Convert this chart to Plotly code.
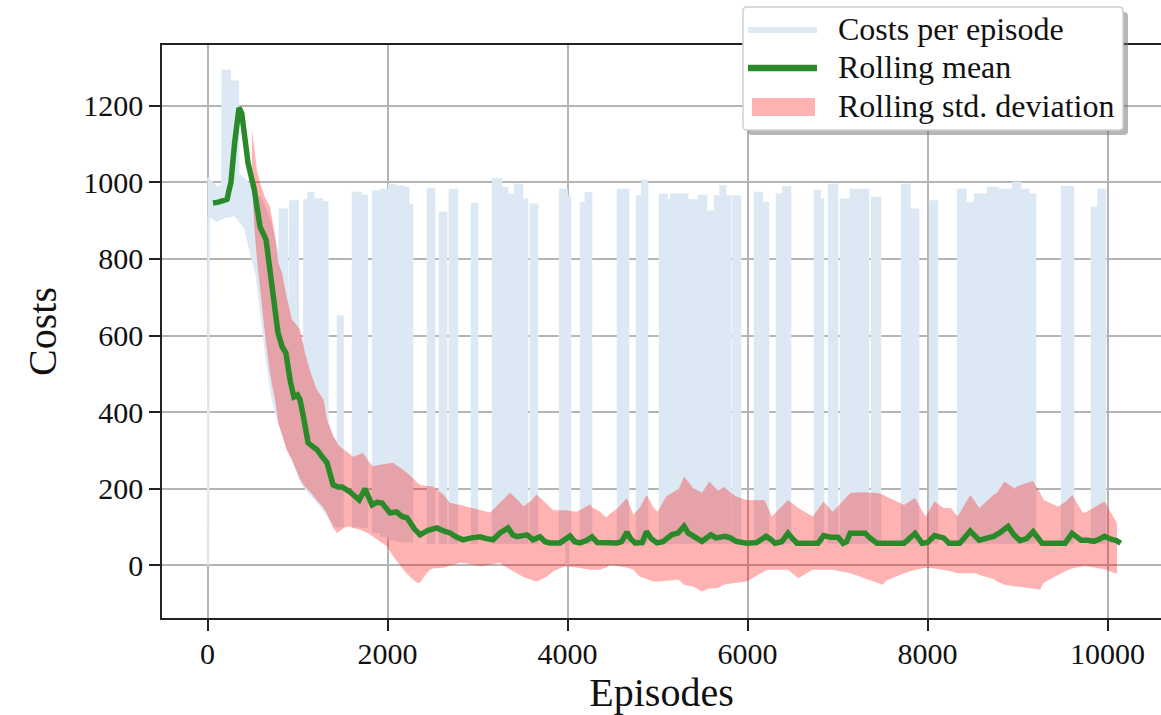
import plotly.graph_objects as go

# ---------------- data ----------------
# Costs per episode: early dense region outline (episode, cost)
early_top_ep = [0, 40, 100, 165, 170, 245, 248, 335, 340, 420, 470, 500, 583, 694, 760, 800,
                805, 880, 885, 915, 920, 1000, 1005, 1075, 1078, 1120, 1122, 1175, 1178, 1195,
                1197, 1270, 1272, 1330, 1333, 1400, 1440]
early_top_cost = [1010, 1000, 985, 990, 1290, 1290, 1262, 1262, 1020, 1005, 990, 960, 960, 900, 830, 790,
                  928, 928, 690, 650, 950, 950, 610, 560, 952, 952, 972, 972, 500, 480,
                  955, 955, 947, 947, 370, 330, 320]
early_low_ep = [5, 12, 100, 200, 300, 340, 420, 480, 550, 600, 660, 720, 800, 880, 960, 1050, 1150, 1250, 1350, 1440]
early_low_cost = [0, 915, 900, 910, 915, 905, 880, 820, 755, 660, 537, 440, 370, 315, 270, 215, 185, 160, 125, 100]

# Costs per episode: failure spikes after the early phase (start, end, peak cost, base cost)
spike_start = [1450, 1617, 1700, 1840, 1930, 2017, 2100, 2172, 2230, 2450, 2583, 2694, 2939,
               3172, 3260, 3328, 3417, 3494, 3594, 3917, 3990, 4005, 4150, 4205, 4561, 4772, 4830,
               5028, 5100, 5150, 5330, 5461, 5540, 5639, 5700, 5750, 5839,
               6083, 6160, 6328, 6400, 6750, 6800, 6906, 7039, 7150, 7383, 7717, 7800,
               8028, 8339, 8420, 8528, 8672, 8783, 8950, 9050, 9120, 9495, 9828, 9900]
spike_end = [1500, 1700, 1770, 1930, 1994, 2083, 2172, 2230, 2272, 2517, 2650, 2772, 2994,
             3260, 3328, 3394, 3494, 3550, 3661, 3990, 4005, 4028, 4205, 4261, 4672, 4830, 4883,
             5100, 5150, 5330, 5439, 5540, 5617, 5700, 5750, 5806, 5917,
             6160, 6228, 6400, 6472, 6800, 6839, 6994, 7128, 7339, 7472, 7800, 7894,
             8106, 8420, 8506, 8672, 8783, 8950, 9028, 9120, 9194, 9617, 9900, 9972]
spike_cost = [649, 972, 965, 975, 980, 993, 988, 985, 940, 982, 920, 980, 943,
              1007, 985, 967, 993, 954, 941, 980, 5, 962, 945, 971, 980, 963, 1003,
              967, 952, 967, 952, 964, 923, 963, 989, 963, 963,
              972, 945, 967, 987, 977, 955, 993, 954, 980, 959, 993, 928,
              950, 980, 945, 967, 985, 980, 998, 980, 967, 987, 933, 980]
spike_base = [100, 100, 98, 85, 75, 65, 62, 60, 60] + [57] * 52

# Rolling mean
mean_ep = [61, 120, 216, 260, 300, 350, 380, 420, 450, 520, 583, 650, 700, 783, 830, 870, 920, 960,
           1000, 1028, 1080, 1117, 1170, 1217, 1270, 1328, 1395, 1450, 1495, 1540, 1583, 1640, 1685,
           1750, 1790, 1828, 1880, 1939, 2028, 2100, 2160, 2217, 2300, 2361, 2450, 2550, 2620, 2695,
           2760, 2839, 2930, 3028, 3100, 3172, 3250, 3339, 3390, 3439, 3500, 3550, 3617, 3694, 3750,
           3805, 3917, 3960, 4028, 4080, 4139, 4210, 4272, 4330, 4394, 4550, 4600, 4660, 4700, 4750,
           4830, 4878, 4930, 4994, 5060, 5157, 5230, 5295, 5340, 5395, 5440, 5494, 5594, 5650, 5750,
           5810, 5872, 5991, 6100, 6206, 6260, 6306, 6380, 6450, 6500, 6550, 6783, 6845, 6920, 7006,
           7062, 7100, 7140, 7306, 7370, 7440, 7740, 7800, 7861, 7940, 8000, 8078, 8178, 8239, 8357,
           8420, 8474, 8573, 8650, 8734, 8800, 8895, 8960, 9028, 9100, 9173, 9273, 9528, 9606, 9706,
           9780, 9850, 9920, 9967, 10045, 10100, 10146]
mean_cost = [946, 948, 955, 1000, 1100, 1194, 1180, 1100, 1050, 980, 884, 850, 760, 607, 570, 555, 480, 440,
             445, 432, 370, 320, 310, 302, 285, 268, 210, 205, 205, 200, 192, 180, 171,
             200, 175, 158, 165, 163, 137, 140, 128, 124, 95, 80, 92, 98, 90, 85,
             75, 67, 72, 75, 70, 67, 85, 98, 80, 75, 78, 80, 67, 75, 62,
             59, 59, 65, 77, 62, 59, 65, 75, 60, 59, 59, 62, 87, 70, 59,
             60, 89, 70, 59, 62, 80, 85, 102, 85, 76, 70, 63, 80, 72, 76,
             72, 63, 58, 60, 76, 68, 58, 62, 84, 70, 58, 58, 78, 74, 74,
             58, 62, 84, 84, 70, 58, 58, 70, 84, 58, 60, 78, 72, 58, 58,
             75, 90, 66, 72, 76, 85, 102, 80, 65, 70, 88, 58, 58, 84, 66,
             66, 63, 70, 76, 68, 65, 58]

# Rolling standard deviation band (upper and lower edges)
std_ep = [494, 520, 550, 583, 640, 694, 750, 787, 828, 880, 939, 980, 1028, 1083, 1150, 1213, 1290,
          1328, 1390, 1439, 1472, 1530, 1583, 1617, 1694, 1728, 1780, 1839, 1900, 1994, 2061, 2139,
          2172, 2250, 2328, 2361, 2420, 2472, 2505, 2620, 2694, 2805, 2880, 3028, 3139, 3250, 3287,
          3361, 3472, 3509, 3600, 3657, 3772, 3842, 3972, 4102, 4250, 4283, 4361, 4430, 4472, 4561,
          4659, 4731, 4800, 4880, 4958, 5000, 5096, 5236, 5295, 5395, 5494, 5574, 5674, 5734, 5872,
          5991, 6190, 6230, 6270, 6450, 6565, 6724, 6845, 6945, 7143, 7262, 7441, 7501, 7541, 7740,
          7860, 7978, 8078, 8178, 8257, 8336, 8474, 8534, 8574, 8733, 8773, 8853, 8972, 8992, 9171,
          9250, 9290, 9449, 9529, 9608, 9727, 9767, 9966, 10085, 10105]
std_upper = [1137, 1080, 1030, 998, 960, 936, 860, 790, 763, 700, 641, 630, 615, 555, 500, 460, 432,
             380, 340, 320, 310, 300, 290, 284, 290, 294, 275, 258, 262, 265, 268, 255,
             250, 235, 216, 210, 208, 207, 206, 185, 164, 158, 154, 145, 138, 165, 172,
             190, 165, 154, 170, 185, 160, 144, 144, 140, 159, 150, 141, 125, 135, 150,
             176, 133, 150, 184, 150, 140, 180, 200, 232, 202, 190, 219, 195, 205, 180,
             171, 170, 150, 128, 171, 150, 128, 167, 140, 189, 191, 189, 185, 180, 158,
             176, 128, 167, 150, 150, 128, 184, 165, 150, 184, 190, 219, 200, 206, 221,
             190, 171, 154, 165, 184, 137, 140, 167, 119, 110]
std_lower = [1000, 880, 797, 720, 600, 500, 432, 372, 340, 300, 275, 250, 225, 205, 190, 171, 150,
             135, 100, 85, 90, 100, 102, 98, 93, 90, 85, 75, 65, 50, 25, -2,
             -10, -30, -45, -45, -25, -11, -8, -6, 0, 7, 5, -2, 2, 7, 0,
             -10, -24, -30, -38, -42, -29, -15, -2, -5, -11, -11, -11, -5, 2, -2,
             -5, -11, -29, -35, -42, -42, -40, -37, -50, -55, -68, -60, -59, -50, -45,
             -42, -15, -11, -11, -11, -33, -11, -11, -11, -20, -30, -45, -50, -40, -20,
             -12, -6, -8, -11, -15, -20, -20, -20, -25, -35, -42, -50, -55, -55, -60,
             -63, -45, -25, -15, -8, -2, -2, -10, -20, -20]

x_ticks = [0, 2000, 4000, 6000, 8000, 10000]
y_ticks = [0, 200, 400, 600, 800, 1000, 1200]
legend_labels = ["Costs per episode", "Rolling mean", "Rolling std. deviation"]

# ---------------- build the cost outline polygons ----------------
poly_x, poly_y = [], []
poly_x += early_top_ep + early_low_ep[::-1] + [None]
poly_y += early_top_cost + early_low_cost[::-1] + [None]
for s, e, c, b in zip(spike_start, spike_end, spike_cost, spike_base):
    poly_x += [s, s, e, e, None]
    poly_y += [b, c, c, b, None]

BLUE = "#dce8f3"
RED_FILL = "rgba(255,0,0,0.30)"
GREEN = "#2a8a2a"
FONT = "Liberation Serif"

fig = go.Figure()

fig.add_trace(go.Scatter(
    x=poly_x, y=poly_y, mode="lines", fill="toself", fillcolor=BLUE,
    line=dict(color=BLUE, width=2.5), connectgaps=False, showlegend=False,
    name=legend_labels[0], hoverinfo="skip"))

fig.add_trace(go.Scatter(
    x=std_ep, y=std_lower, mode="lines", line=dict(width=0, color="rgba(255,0,0,0)"),
    showlegend=False, hoverinfo="skip"))
fig.add_trace(go.Scatter(
    x=std_ep, y=std_upper, mode="lines", fill="tonexty",
    fillcolor=RED_FILL, line=dict(width=0, color="rgba(255,0,0,0)"),
    name=legend_labels[2], showlegend=False))

fig.add_trace(go.Scatter(
    x=mean_ep, y=mean_cost, mode="lines", name=legend_labels[1], showlegend=False,
    line=dict(color=GREEN, width=5.5)))

axis_common = dict(
    showgrid=True, gridcolor="#b4b4b4", gridwidth=1.5,
    showline=True, linecolor="#222222", linewidth=1.5, mirror=True,
    ticks="outside", ticklen=11, tickwidth=1.5, tickcolor="#222222",
    zeroline=False, automargin=False,
    tickfont=dict(family=FONT, size=30, color="#111111"),
)

# ---------------- legend box drawn in paper coordinates ----------------
L, T, W, H = 162, 45, 999, 573   # plot area in pixels
def px(x):
    return (x - L) / W
def py(y):
    return (T + H - y) / H

def rounded(x0, y0, x1, y1, r=4):
    return (f"M{px(x0 + r)},{py(y0)} L{px(x1 - r)},{py(y0)} Q{px(x1)},{py(y0)} {px(x1)},{py(y0 + r)} "
            f"L{px(x1)},{py(y1 - r)} Q{px(x1)},{py(y1)} {px(x1 - r)},{py(y1)} "
            f"L{px(x0 + r)},{py(y1)} Q{px(x0)},{py(y1)} {px(x0)},{py(y1 - r)} "
            f"L{px(x0)},{py(y0 + r)} Q{px(x0)},{py(y0)} {px(x0 + r)},{py(y0)} Z")

shapes = [
    dict(type="path", xref="paper", yref="paper", path=rounded(748, 12, 1128, 135),
         fillcolor="rgba(110,110,110,0.5)", line=dict(width=0), layer="above"),
    dict(type="path", xref="paper", yref="paper", path=rounded(743, 7, 1123, 130),
         fillcolor="white", line=dict(color="#cfcfcf", width=1.5), layer="above"),
    dict(type="line", xref="paper", yref="paper", x0=px(748), x1=px(817), y0=py(30), y1=py(30),
         line=dict(color=BLUE, width=6), layer="above"),
    dict(type="line", xref="paper", yref="paper", x0=px(748), x1=px(817), y0=py(68), y1=py(68),
         line=dict(color=GREEN, width=6.5), layer="above"),
    dict(type="rect", xref="paper", yref="paper", x0=px(752), x1=px(815), y0=py(116), y1=py(98),
         fillcolor=RED_FILL, line=dict(width=0), layer="above"),
]
annotations = [
    dict(xref="paper", yref="paper", x=px(836), y=py(yc), xanchor="left", yanchor="middle",
         text=t, showarrow=False, font=dict(family=FONT, size=32, color="#111111"))
    for t, yc in zip(legend_labels, [29, 67, 106])
]

fig.update_layout(
    width=1161, height=715,
    margin=dict(l=L, r=1161 - L - W, t=T, b=715 - T - H, autoexpand=False),
    paper_bgcolor="white", plot_bgcolor="white",
    font=dict(family=FONT, color="#111111"),
    showlegend=False,
    xaxis=dict(range=[-506, 10594], tickvals=x_ticks, ticktext=[str(v) for v in x_ticks],
               title=dict(text="Episodes", font=dict(family=FONT, size=40), standoff=12),
               ticklabelstandoff=-3, **axis_common),
    yaxis=dict(range=[-137, 1358], tickvals=y_ticks, ticktext=[str(v) for v in y_ticks],
               title=dict(text="Costs", font=dict(family=FONT, size=40), standoff=14),
               ticklabelstandoff=0, **axis_common),
    shapes=shapes,
    annotations=annotations,
)

fig.write_html("out.html", config={"displayModeBar": False},
               post_script="document.body.style.margin='0';")
